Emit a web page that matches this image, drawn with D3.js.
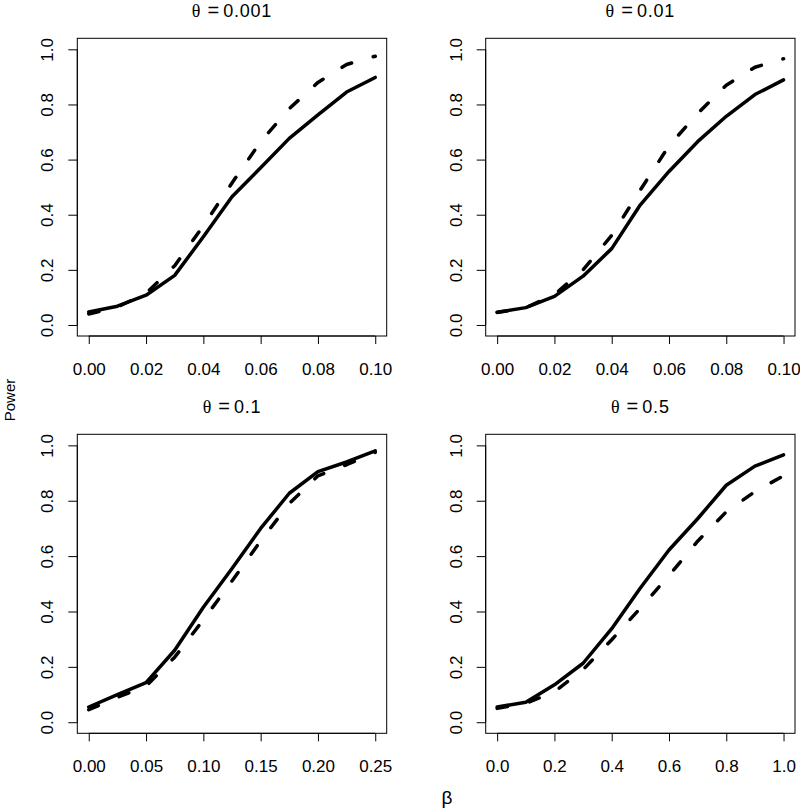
<!DOCTYPE html>
<html>
<head>
<meta charset="utf-8">
<script src="https://cdn.jsdelivr.net/npm/d3@7"></script>
<style>
  html, body { margin: 0; padding: 0; background: #fff; }
  svg { display: block; }
  text { font-family: "Liberation Sans", Arial, Helvetica, sans-serif; fill: #000; }
</style>
</head>
<body>
<svg id="chart" width="800" height="811"></svg>
<script>
// ---------- data ----------
const titles = ["0.001", "0.01", "0.1", "0.5"];

const beta1 = [0, 0.01, 0.02, 0.03, 0.04, 0.05, 0.06, 0.07, 0.08, 0.09, 0.10];
const solid1 = [0.047, 0.068, 0.108, 0.18, 0.32, 0.465, 0.57, 0.677, 0.762, 0.845, 0.898];
const dashed1 = [0.04, 0.065, 0.115, 0.215, 0.36, 0.515, 0.665, 0.785, 0.88, 0.945, 0.975];

const beta2 = [0, 0.01, 0.02, 0.03, 0.04, 0.05, 0.06, 0.07, 0.08, 0.09, 0.10];
const solid2 = [0.046, 0.063, 0.104, 0.177, 0.277, 0.436, 0.557, 0.665, 0.757, 0.836, 0.889];
const dashed2 = [0.045, 0.063, 0.11, 0.2, 0.325, 0.49, 0.65, 0.767, 0.87, 0.935, 0.966];

const beta3 = [0, 0.025, 0.05, 0.075, 0.10, 0.125, 0.15, 0.175, 0.20, 0.225, 0.25];
const solid3 = [0.055, 0.1, 0.143, 0.26, 0.415, 0.555, 0.70, 0.827, 0.905, 0.94, 0.98];
const dashed3 = [0.045, 0.09, 0.13, 0.235, 0.37, 0.51, 0.655, 0.79, 0.89, 0.93, 0.975];

const beta4 = [0, 0.1, 0.2, 0.3, 0.4, 0.5, 0.6, 0.7, 0.8, 0.9, 1.0];
const solid4 = [0.055, 0.072, 0.135, 0.213, 0.338, 0.485, 0.622, 0.735, 0.856, 0.925, 0.966];
const dashed4 = [0.05, 0.068, 0.11, 0.19, 0.298, 0.412, 0.53, 0.654, 0.76, 0.833, 0.89];

const xTicks1 = [0, 0.02, 0.04, 0.06, 0.08, 0.10];
const xTicks3 = [0, 0.05, 0.10, 0.15, 0.20, 0.25];
const xTicks4 = [0, 0.2, 0.4, 0.6, 0.8, 1.0];
const yTicks = [0, 0.2, 0.4, 0.6, 0.8, 1.0];

const yLabel = "Power";
const xLabel = "β";

// ---------- layout ----------
const panels = [
  { title: titles[0], x: beta1, s: solid1, d: dashed1, ticks: xTicks1, fmt: ".2f", box: [77.3, 386.7, 38.3, 336] },
  { title: titles[1], x: beta2, s: solid2, d: dashed2, ticks: xTicks1, fmt: ".2f", box: [485.7, 795, 38.3, 336] },
  { title: titles[2], x: beta3, s: solid3, d: dashed3, ticks: xTicks3, fmt: ".2f", box: [77.3, 386.7, 434.3, 733.3] },
  { title: titles[3], x: beta4, s: solid4, d: dashed4, ticks: xTicks4, fmt: ".1f", box: [485.7, 795, 434.3, 733.3] }
];

const svg = d3.select("#chart");
const FS = 17;

panels.forEach(p => {
  const [L, R, T, B] = p.box;
  const xmin = d3.min(p.x), xmax = d3.max(p.x);
  const pad = (xmax - xmin) * 0.04;
  const x = d3.scaleLinear().domain([xmin - pad, xmax + pad]).range([L, R]);
  const y = d3.scaleLinear().domain([-0.04, 1.04]).range([B, T]);
  const g = svg.append("g");

  // box
  g.append("rect").attr("x", L).attr("y", T).attr("width", R - L).attr("height", B - T)
    .attr("fill", "none").attr("stroke", "#000").attr("stroke-width", 1);

  // x axis
  const xa = g.append("g").attr("transform", `translate(0,${B})`)
    .call(d3.axisBottom(x).tickValues(p.ticks).tickFormat(d3.format(p.fmt)).tickSize(8).tickPadding(0));
  xa.select(".domain").attr("d", `M${x(p.ticks[0])},0H${x(p.ticks[p.ticks.length - 1])}`).attr("stroke", "#000");
  xa.selectAll(".tick line").attr("stroke", "#000");
  xa.selectAll(".tick text").attr("font-size", FS).attr("font-family", "Liberation Sans, Arial, sans-serif")
    .attr("dy", null).attr("y", 39).attr("fill", "#000");

  // y axis
  const ya = g.append("g").attr("transform", `translate(${L},0)`)
    .call(d3.axisLeft(y).tickValues(yTicks).tickFormat(d3.format(".1f")).tickSize(9).tickPadding(0));
  ya.select(".domain").attr("d", `M0,${y(0)}V${y(1)}`).attr("stroke", "#000");
  ya.selectAll(".tick line").attr("stroke", "#000");
  ya.selectAll(".tick text").attr("font-size", FS).attr("font-family", "Liberation Sans, Arial, sans-serif")
    .attr("x", null).attr("dy", null).attr("text-anchor", "middle")
    .attr("transform", "translate(-24,0) rotate(-90)").attr("y", 0).attr("fill", "#000");

  // lines
  const line = d3.line().x((d, i) => x(p.x[i])).y(d => y(d));
  g.append("path").datum(p.s).attr("d", line).attr("fill", "none").attr("stroke", "#000")
    .attr("stroke-width", 3.5).attr("stroke-linejoin", "round").attr("stroke-linecap", "round");
  g.append("path").datum(p.d).attr("d", line).attr("fill", "none").attr("stroke", "#000")
    .attr("stroke-width", 3.5).attr("stroke-linejoin", "round").attr("stroke-linecap", "round")
    .attr("stroke-dasharray", "10.5,22.5");

  // title
  const t = g.append("text").attr("x", (L + R) / 2).attr("y", T - 21).attr("text-anchor", "middle")
    .attr("font-size", 18);
  t.append("tspan").attr("font-family", "Liberation Serif, Times New Roman, serif").text("θ");
  t.append("tspan").attr("dx", 7).attr("font-size", 20).text("=");
  t.append("tspan").attr("dx", 4).attr("letter-spacing", 0.8).text(p.title);
});

// outer labels
svg.append("text").attr("transform", "translate(15,400) rotate(-90)").attr("text-anchor", "middle")
  .attr("font-size", 15).text(yLabel);
svg.append("text").attr("x", 447).attr("y", 804).attr("text-anchor", "middle")
  .attr("font-family", "Liberation Serif, Times New Roman, serif").attr("font-size", 19).text(xLabel);
</script>
</body>
</html>
